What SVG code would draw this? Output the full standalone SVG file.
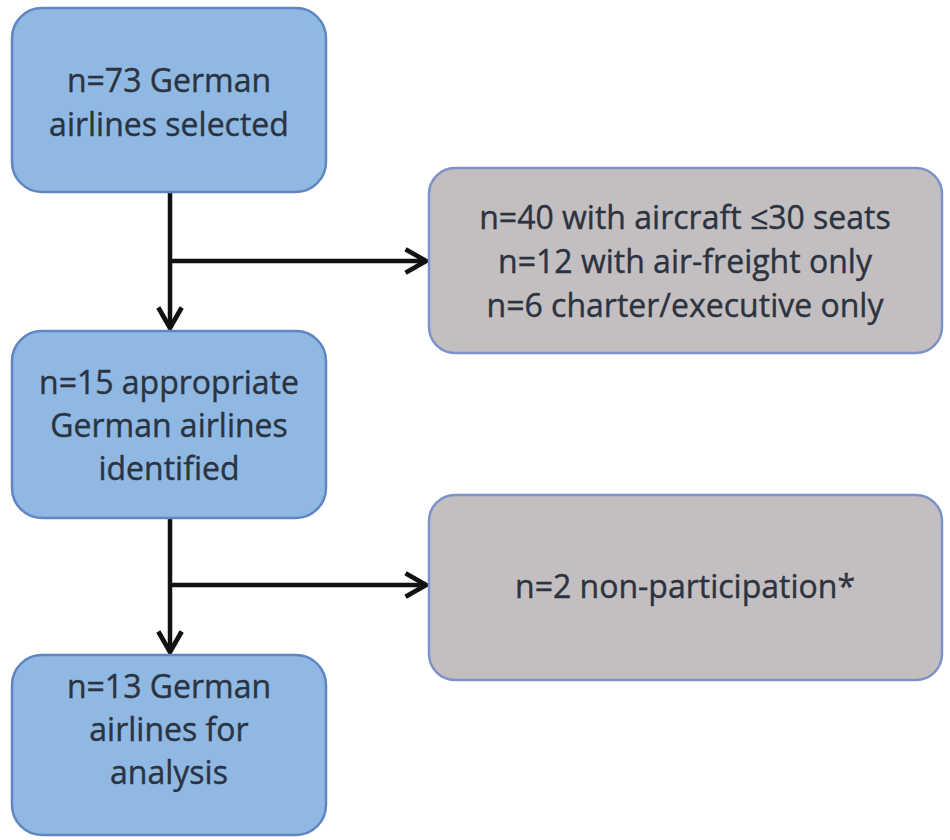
<svg xmlns="http://www.w3.org/2000/svg" width="950" height="840" viewBox="0 0 950 840">
<style>
.blue{fill:#8fb9e3;stroke:#5f86c2;stroke-width:2.5}
.gray{fill:#c3bfc0;stroke:#7d92c9;stroke-width:2.5}
.t{font-family:"Open Sans","Liberation Sans",sans-serif;font-size:32px;fill:#2b3341;stroke:#2b3341;stroke-width:0.4;text-anchor:middle}
.c{fill:none;stroke:#111;stroke-width:4.5}
</style>
<defs>
<marker id="ah" viewBox="0 0 10 10" refX="8.5" refY="5" markerWidth="6.5" markerHeight="6.5" markerUnits="strokeWidth" orient="auto">
<path d="M1.5,1 L8.5,5 L1.5,9" fill="none" stroke="#111" stroke-width="1.6"/>
</marker>
</defs>
<rect width="950" height="840" fill="#fff"/>
<g id="connectors">
<path class="c" d="M170,192 V328" marker-end="url(#ah)"/>
<path class="c" d="M170,261 H426" marker-end="url(#ah)"/>
<path class="c" d="M170,518 V652" marker-end="url(#ah)"/>
<path class="c" d="M170,585 H426" marker-end="url(#ah)"/>
</g>
<g id="n1">
<rect class="blue" x="12" y="8" width="314" height="184" rx="30"/>
<text class="t" x="169" y="92">n=73 German</text>
<text class="t" x="169" y="136">airlines selected</text>
</g>
<g id="n2">
<rect class="gray" x="429" y="168" width="513" height="185" rx="26"/>
<text class="t" x="685" y="229">n=40 with aircraft ≤30 seats</text>
<text class="t" x="685" y="273">n=12 with air-freight only</text>
<text class="t" x="685" y="317">n=6 charter/executive only</text>
</g>
<g id="n3">
<rect class="blue" x="12" y="331" width="314" height="187" rx="30"/>
<text class="t" x="169" y="394">n=15 appropriate</text>
<text class="t" x="169" y="437">German airlines</text>
<text class="t" x="169" y="480">identified</text>
</g>
<g id="n4">
<rect class="gray" x="429" y="495" width="513" height="185" rx="26"/>
<text class="t" x="685" y="598">n=2 non-participation*</text>
</g>
<g id="n5">
<rect class="blue" x="12" y="655" width="314" height="180" rx="30"/>
<text class="t" x="169" y="698">n=13 German</text>
<text class="t" x="169" y="741">airlines for</text>
<text class="t" x="169" y="784">analysis</text>
</g>
</svg>
